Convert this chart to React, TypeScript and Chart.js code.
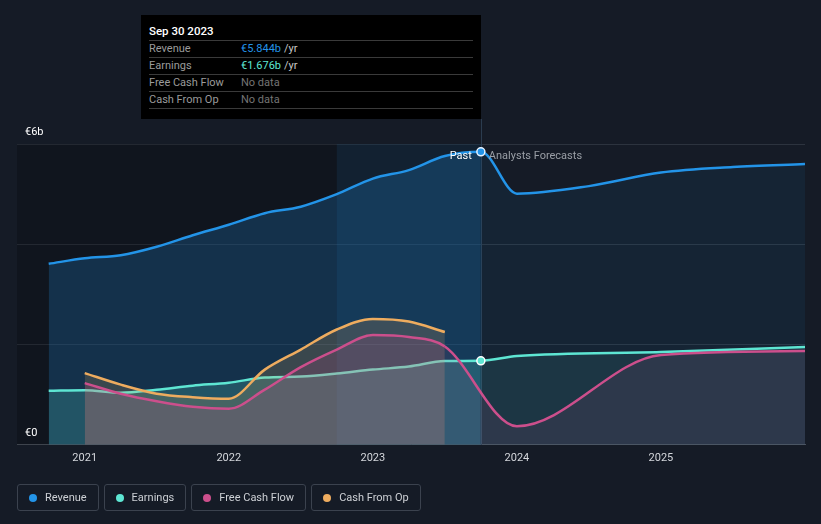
import React, { useEffect, useRef } from "react";
import { Chart, registerables } from "chart.js";

Chart.register(...registerables);

// ---------- data ----------
const revenueX = [2020.75, 2021.0, 2021.25, 2021.5, 2021.75, 2022.0, 2022.25, 2022.5, 2022.75, 2023.0, 2023.25, 2023.5, 2023.75, 2024.0, 2024.5, 2025.0, 2025.5, 2026.0];
const revenueY = [3.61, 3.72, 3.78, 3.95, 4.18, 4.39, 4.62, 4.75, 5.0, 5.31, 5.48, 5.76, 5.844, 5.01, 5.16, 5.43, 5.54, 5.6];

const earningsX = [2020.75, 2021.0, 2021.25, 2021.5, 2021.75, 2022.0, 2022.25, 2022.5, 2022.75, 2023.0, 2023.25, 2023.5, 2023.75, 2024.0, 2025.0, 2026.0];
const earningsY = [1.08, 1.09, 1.04, 1.1, 1.18, 1.24, 1.34, 1.36, 1.42, 1.5, 1.56, 1.67, 1.676, 1.77, 1.85, 1.95];

const fcfX = [2021.0, 2021.25, 2021.5, 2021.75, 2022.0, 2022.25, 2022.5, 2022.75, 2023.0, 2023.25, 2023.5, 2024.0, 2025.0, 2026.0];
const fcfY = [1.23, 1.02, 0.87, 0.76, 0.72, 1.1, 1.55, 1.9, 2.19, 2.15, 1.96, 0.37, 1.79, 1.87];

const cfoX = [2021.0, 2021.25, 2021.5, 2021.75, 2022.0, 2022.25, 2022.5, 2022.75, 2023.0, 2023.25, 2023.5];
const cfoY = [1.43, 1.2, 1.02, 0.95, 0.92, 1.5, 1.9, 2.3, 2.51, 2.46, 2.25];

const xTicks = [2021, 2022, 2023, 2024, 2025];
const xTickLabels = ["2021", "2022", "2023", "2024", "2025"];
const yLabelValues = [0, 6];
const yLabelTexts = ["€0", "€6b"];

const X_MIN = 2020.53;
const X_MAX = 2026.0;
const NOW_X = 2023.75;
const FCF_FORECAST_FROM = 2023.5;
const BAND_START = 2022.75;

const COLORS = {
  revenue: "#2394e8",
  earnings: "#5ee6d3",
  fcf: "#cc4f8c",
  cfo: "#eeac5f",
};

const legendItems = [
  { name: "Revenue", color: "#2394e8" },
  { name: "Earnings", color: "#5ee6d3" },
  { name: "Free Cash Flow", color: "#cc4f8c" },
  { name: "Cash From Op", color: "#eeac5f" },
];

const tooltipTitle = "Sep 30 2023";
const tooltipRows = [
  { label: "Revenue", value: "€5.844b", unit: "/yr", color: "#2394e8" },
  { label: "Earnings", value: "€1.676b", unit: "/yr", color: "#5ee6d3" },
  { label: "Free Cash Flow", value: "No data", unit: "", color: "#747474" },
  { label: "Cash From Op", value: "No data", unit: "", color: "#747474" },
];

const toPts = (xs: number[], ys: number[]) => xs.map((x, i) => ({ x, y: ys[i] }));

const FONT = "Roboto, 'Noto Sans', sans-serif";

export default function App() {
  const ref = useRef<HTMLCanvasElement | null>(null);

  useEffect(() => {
    document.body.style.margin = "0";
    document.body.style.background = "#151b26";
    const canvas = ref.current!;
    const segBg = (past: string, fc: string, from: number) => (ctx: any) =>
      ctx.p0.parsed.x >= from - 1e-6 ? fc : past;
    const nowRadius = (ctx: any) => {
      const raw = ctx.raw as any;
      return raw && Math.abs(raw.x - NOW_X) < 1e-6 ? 4 : 0;
    };

    const bgPlugin = {
      id: "bgPlugin",
      beforeDatasetsDraw(chart: any) {
        const { ctx, chartArea } = chart;
        const xs = chart.scales.x;
        const xNow = xs.getPixelForValue(NOW_X);
        const xBand = xs.getPixelForValue(BAND_START);
        ctx.save();
        ctx.fillStyle = "rgba(0,0,0,0.2)";
        ctx.fillRect(chartArea.left, chartArea.top, xNow - chartArea.left, chartArea.bottom - chartArea.top);
        ctx.fillStyle = "rgba(33,150,243,0.09)";
        ctx.fillRect(xBand, chartArea.top, xNow - xBand, chartArea.bottom - chartArea.top);
        ctx.strokeStyle = "#2b3c4f";
        ctx.lineWidth = 1;
        ctx.beginPath();
        ctx.moveTo(Math.round(xNow) + 0.5, 119);
        ctx.lineTo(Math.round(xNow) + 0.5, chartArea.bottom);
        ctx.stroke();
        ctx.restore();
      },
      afterDraw(chart: any) {
        const { ctx } = chart;
        const xs = chart.scales.x;
        const ys = chart.scales.y;
        ctx.save();
        ctx.font = `11px ${FONT}`;
        ctx.fillStyle = "#ffffff";
        ctx.textAlign = "left";
        ctx.textBaseline = "middle";
        yLabelValues.forEach((v, i) => {
          ctx.fillText(yLabelTexts[i], 25, ys.getPixelForValue(v) - 12);
        });
        const xNow = xs.getPixelForValue(NOW_X);
        ctx.font = `11px ${FONT}`;
        ctx.textAlign = "right";
        ctx.fillStyle = "#ffffff";
        ctx.fillText("Past", xNow - 9, 156);
        ctx.textAlign = "left";
        ctx.fillStyle = "#9a9fa6";
        ctx.fillText("Analysts Forecasts", xNow + 8, 156);
        ctx.restore();
      },
    };

    const chart = new Chart(canvas, {
      type: "line",
      data: {
        datasets: [
          {
            label: "Revenue",
            data: toPts(revenueX, revenueY),
            borderColor: COLORS.revenue,
            borderWidth: 2.5,
            fill: "origin",
            backgroundColor: "rgba(33,150,243,0.21)",
            segment: { backgroundColor: segBg("rgba(33,150,243,0.21)", "rgba(33,150,243,0.07)", NOW_X) },
            pointRadius: nowRadius,
            pointHoverRadius: 0,
            pointBackgroundColor: COLORS.revenue,
            pointBorderColor: "#e8f3ff",
            pointBorderWidth: 1.5,
            cubicInterpolationMode: "monotone",
            order: 4,
          } as any,
          {
            label: "Earnings",
            data: toPts(earningsX, earningsY),
            borderColor: COLORS.earnings,
            borderWidth: 2.5,
            fill: "origin",
            backgroundColor: "rgba(94,230,211,0.2)",
            segment: { backgroundColor: segBg("rgba(94,230,211,0.2)", "rgba(94,230,211,0.1)", NOW_X) },
            pointRadius: nowRadius,
            pointHoverRadius: 0,
            pointBackgroundColor: COLORS.earnings,
            pointBorderColor: "#ffffff",
            pointBorderWidth: 1.5,
            cubicInterpolationMode: "monotone",
            order: 3,
          } as any,
          {
            label: "Cash From Op",
            data: toPts(cfoX, cfoY),
            borderColor: COLORS.cfo,
            borderWidth: 2.5,
            fill: "origin",
            backgroundColor: "rgba(238,172,95,0.18)",
            pointRadius: 0,
            pointHoverRadius: 0,
            cubicInterpolationMode: "monotone",
            order: 2,
          } as any,
          {
            label: "Free Cash Flow",
            data: toPts(fcfX, fcfY),
            borderColor: COLORS.fcf,
            borderWidth: 2.5,
            fill: "origin",
            backgroundColor: "rgba(204,79,140,0.17)",
            segment: { backgroundColor: segBg("rgba(204,79,140,0.17)", "rgba(204,79,140,0.1)", FCF_FORECAST_FROM) },
            pointRadius: 0,
            pointHoverRadius: 0,
            cubicInterpolationMode: "monotone",
            order: 1,
          } as any,
        ],
      },
      options: {
        animation: false,
        responsive: false,
        maintainAspectRatio: false,
        events: [],
        layout: { padding: { left: 17, right: 16, top: 144, bottom: 52 } },
        plugins: {
          legend: { display: false },
          tooltip: { enabled: false },
        },
        scales: {
          x: {
            type: "linear",
            min: X_MIN,
            max: X_MAX,
            afterBuildTicks: (s: any) => {
              s.ticks = xTicks.map((v) => ({ value: v }));
            },
            ticks: {
              callback: (v: any) => {
                const i = xTicks.indexOf(Number(v));
                return i >= 0 ? xTickLabels[i] : "";
              },
              color: "#d4d7dc",
              font: { size: 11, family: FONT },
              padding: 7,
              maxRotation: 0,
              autoSkip: false,
            },
            grid: { display: false, drawTicks: false },
            border: { display: true, color: "#4a515c", width: 1 },
          },
          y: {
            min: 0,
            max: 6,
            ticks: { display: false, stepSize: 2 },
            grid: { color: "#2c333e", drawTicks: false, lineWidth: 1 },
            border: { display: false },
          },
        },
      },
      plugins: [bgPlugin],
    });
    return () => chart.destroy();
  }, []);

  return (
    <div
      style={{
        position: "absolute",
        left: 0,
        top: 0,
        width: 821,
        height: 524,
        background: "#151b26",
        overflow: "hidden",
        fontFamily: FONT,
      }}
    >
      <canvas ref={ref} width={821} height={524} style={{ position: "absolute", left: 0, top: 0 }} />
      <div
        style={{
          position: "absolute",
          left: 141,
          top: 15,
          width: 340,
          height: 104,
          background: "#000000",
          boxSizing: "border-box",
          padding: "0 8px",
        }}
      >
        <div style={{ color: "#ffffff", fontSize: 11.5, fontWeight: 500, height: 25, lineHeight: "32px", borderBottom: "1px solid #3a3a3a" }}>
          {tooltipTitle}
        </div>
        {tooltipRows.map((r) => (
          <div
            key={r.label}
            style={{
              display: "flex",
              height: 16,
              lineHeight: "16px",
              fontSize: 11,
              borderBottom: "1px solid #3a3a3a",
            }}
          >
            <span style={{ width: 92, color: "#9b9b9b" }}>{r.label}</span>
            <span style={{ color: r.color }}>{r.value}</span>
            {r.unit ? <span style={{ color: "#c8c8c8", marginLeft: 3 }}>{r.unit}</span> : null}
          </div>
        ))}
      </div>
      <div style={{ position: "absolute", left: 17, top: 484, display: "flex", gap: 5 }}>
        {legendItems.map((it) => (
          <div
            key={it.name}
            style={{
              display: "flex",
              alignItems: "center",
              height: 27,
              boxSizing: "border-box",
              border: "1px solid #3b424e",
              borderRadius: 3,
              padding: "0 11px 0 11px",
              color: "#cdd0d5",
              fontSize: 11,
              whiteSpace: "nowrap",
            }}
          >
            <span style={{ width: 8, height: 8, borderRadius: 4, background: it.color, marginRight: 8, display: "inline-block" }} />
            {it.name}
          </div>
        ))}
      </div>
    </div>
  );
}
